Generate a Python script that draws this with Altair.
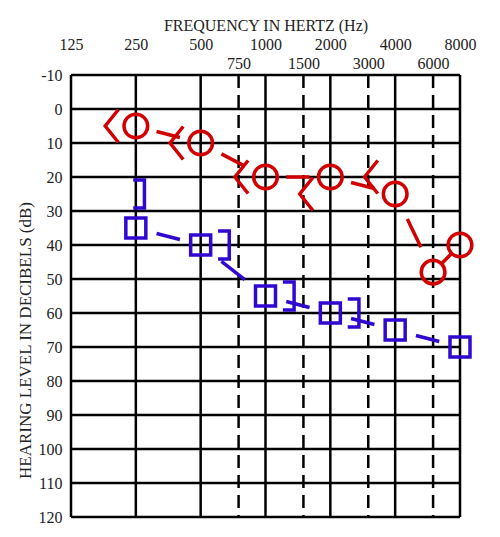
import altair as alt
import pandas as pd

# ---- axis tick values ----
oct_freqs = [125, 250, 500, 1000, 2000, 4000, 8000]
mid_freqs = [750, 1500, 3000, 6000]
db_levels = [-10, 0, 10, 20, 30, 40, 50, 60, 70, 80, 90, 100, 110, 120]

# ---- audiogram readings ----
r_air_freq = [250, 500, 1000, 2000, 4000, 6000, 8000]
r_air_db = [5, 10, 20, 20, 25, 48, 40]
r_bone_freq = [250, 500, 1000, 2000, 4000]
r_bone_db = [5, 10, 20, 25, 20]
l_air_freq = [250, 500, 1000, 2000, 4000, 8000]
l_air_db = [35, 40, 55, 60, 65, 70]
l_bone_freq = [250, 500, 1000, 2000]
l_bone_db = [25, 40, 55, 60]

RED = "#d20000"
BLUE = "#3008cf"
FONT = "Liberation Serif"

xscale = alt.Scale(type="log", base=2, domain=[125, 8000], nice=False)
yscale = alt.Scale(domain=[-10, 120], reverse=True, nice=False, zero=False)
NOX = alt.X("freq:Q", scale=xscale, axis=None)
NOY = alt.Y("db:Q", scale=yscale, axis=None)


def pts(f, d):
    return pd.DataFrame({"freq": f, "db": d})


def segs(f, d):
    return pd.DataFrame({"f1": f[:-1], "f2": f[1:], "d1": d[:-1], "d2": d[1:]})


# ---- grid with axes ----
hgrid = alt.Chart(pd.DataFrame({"db": db_levels})).mark_rule(
    color="black", strokeWidth=2.5
).encode(
    y=alt.Y("db:Q", scale=yscale, axis=alt.Axis(
        orient="left", values=db_levels, labelExpr="'' + datum.value",
        grid=False, ticks=False, tickSize=0, domain=False,
        labelFont=FONT, labelFontSize=16, labelColor="#222", labelPadding=9,
        title="HEARING LEVEL IN DECIBELS (dB)", titleFont=FONT, titleFontSize=17,
        titleFontWeight="normal", titleColor="#222", titlePadding=4, titleY=265,
    ))
)

vgrid = alt.Chart(pd.DataFrame({"freq": oct_freqs})).mark_rule(
    color="black", strokeWidth=2.5
).encode(
    x=alt.X("freq:Q", scale=xscale, axis=alt.Axis(
        orient="top", values=oct_freqs, format="d", grid=False, ticks=False, tickSize=0,
        domain=False, labelFont=FONT, labelFontSize=16, labelColor="#222",
        labelPadding=2, offset=20.5, labelFlush=False,
        title="FREQUENCY IN HERTZ (Hz)", titleFont=FONT, titleFontSize=16,
        titleFontWeight="normal", titleColor="#222", titlePadding=3,
    ))
)

dgrid = alt.Chart(pd.DataFrame({"freq": mid_freqs})).mark_rule(
    color="black", strokeWidth=2.5, strokeDash=[13, 7]
).encode(
    x=alt.X("freq:Q", scale=xscale, axis=alt.Axis(
        orient="top", values=mid_freqs, format="d", grid=False, ticks=False, tickSize=0,
        domain=False, labelFont=FONT, labelFontSize=16, labelColor="#222",
        labelPadding=3.5, offset=0, labelFlush=False, title=None,
    ))
)


# ---- connecting segments (trimmed between markers) ----
def seg_layer(f, d, color):
    return alt.Chart(segs(f, d)).transform_calculate(
        xa="exp(log(datum.f1) + 0.32 * (log(datum.f2) - log(datum.f1)))",
        xb="exp(log(datum.f1) + 0.68 * (log(datum.f2) - log(datum.f1)))",
        ya="datum.d1 + 0.32 * (datum.d2 - datum.d1)",
        yb="datum.d1 + 0.68 * (datum.d2 - datum.d1)",
    ).mark_rule(color=color, strokeWidth=3.5).encode(
        x=alt.X("xa:Q", scale=xscale, axis=None), x2="xb:Q",
        y=alt.Y("ya:Q", scale=yscale, axis=None), y2="yb:Q",
    )


red_line = seg_layer(r_air_freq, r_air_db, RED)
blue_line = seg_layer(l_air_freq, l_air_db, BLUE)

LT = "M 0.4 -1 L -0.4 0 L 0.4 1"
RB = "M -0.4 -1 L 0.4 -1 L 0.4 1 L -0.4 1"

r_air = alt.Chart(pts(r_air_freq, r_air_db)).mark_point(
    shape="circle", filled=False, size=560, strokeWidth=3.5, color=RED, opacity=1
).encode(x=NOX, y=NOY)

r_bone = alt.Chart(pts(r_bone_freq, r_bone_db)).mark_point(
    shape=LT, filled=False, size=1089, strokeWidth=3.5, color=RED, opacity=1, xOffset=-24
).encode(x=NOX, y=NOY)

l_air = alt.Chart(pts(l_air_freq, l_air_db)).mark_point(
    shape="square", filled=False, size=400, strokeWidth=3.5, color=BLUE, opacity=1
).encode(x=NOX, y=NOY)

l_bone_a = alt.Chart(pts(l_bone_freq, l_bone_db)).transform_filter(
    "datum.freq == 250"
).mark_point(
    shape=RB, filled=False, size=784, strokeWidth=3.5, color=BLUE, opacity=1, xOffset=3
).encode(x=NOX, y=NOY)

l_bone_b = alt.Chart(pts(l_bone_freq, l_bone_db)).transform_filter(
    "datum.freq != 250"
).mark_point(
    shape=RB, filled=False, size=784, strokeWidth=3.5, color=BLUE, opacity=1, xOffset=23
).encode(x=NOX, y=NOY)

chart = alt.layer(
    hgrid, dgrid, vgrid, red_line, blue_line, r_air, r_bone, l_air, l_bone_a, l_bone_b
).resolve_axis(x="independent", y="independent").properties(
    width=389, height=442,
    padding={"left": 8, "top": 9, "right": 5, "bottom": 5},
    background="white",
).configure_view(stroke=None)

chart.save("out.html", embed_options={"renderer": "svg", "actions": False})
